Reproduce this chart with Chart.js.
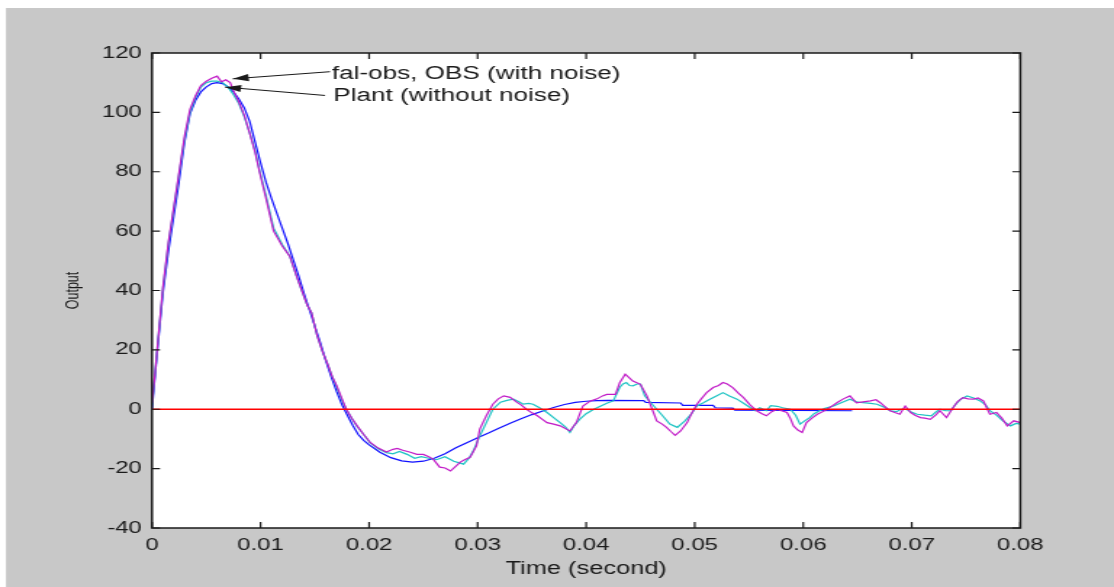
<!DOCTYPE html>
<html>
<head>
<meta charset="utf-8">
<script src="https://cdn.jsdelivr.net/npm/chart.js@4.4.0/dist/chart.umd.min.js"></script>
<style>
html,body{margin:0;padding:0;background:#ffffff;overflow:hidden}
canvas{display:block}
</style>
</head>
<body>
<canvas id="c" width="768" height="587" style="width:1114px;height:587px"></canvas>
<script>
// ---- tick labels ----
const xTickValues = [0, 0.01, 0.02, 0.03, 0.04, 0.05, 0.06, 0.07, 0.08];
const xTickLabels = ['0', '0.01', '0.02', '0.03', '0.04', '0.05', '0.06', '0.07', '0.08'];
const yTickValues = [-40, -20, 0, 20, 40, 60, 80, 100, 120];
const yTickLabels = ['-40', '-20', '0', '20', '40', '60', '80', '100', '120'];

// ---- Plant (without noise) ----
const tPlant = [0,0.00025,0.0005,0.001,0.0015,0.002,0.0025,0.003,0.0035,0.004,
0.0045,0.005,0.0055,0.006,0.0065,0.007,0.0075,0.008,0.0085,0.009,
0.0095,0.01,0.0105,0.011,0.0115,0.012,0.0125,0.013,0.0135,0.014,
0.0145,0.015,0.0155,0.016,0.0165,0.017,0.0175,0.018,0.0185,0.019,
0.0195,0.02,0.021,0.022,0.023,0.024,0.025,0.026,0.027,0.028,
0.029,0.03,0.031,0.032,0.033,0.034,0.035,0.036,0.037,0.038,
0.039,0.04,0.041,0.042,0.0453,0.0455,0.0487,0.0489,0.0517,0.0519,
0.0535,0.0537,0.0645];
const yPlant = [0,10,20,39,53,65,77,90,99.5,104,
106.9,108.6,109.7,110,109.7,108.6,106.9,104.5,101.5,97,
90,83,76.5,71,66,61,56,50.5,45,39,
33.5,28,22.5,16.5,11,6,1.5,-2,-5.5,-8.5,
-10.5,-12,-14.5,-16.3,-17.4,-17.8,-17.5,-16.5,-15,-13,
-11.3,-9.6,-8,-6.3,-4.7,-3.2,-1.8,-0.6,0.6,1.6,
2.3,2.7,2.9,3,2.9,2.3,2.1,1.3,1.3,0.5,
0.4,-0.3,-0.5];

// ---- OBS (with noise) ----
const tObs = [0,0.00025,0.0005,0.001,0.0015,0.002,0.0025,0.003,0.0035,0.004,
0.0045,0.005,0.0055,0.006,0.0065,0.007,0.0075,0.008,0.0085,0.009,
0.0095,0.0099,0.0105,0.0112,0.012,0.0127,0.0133,0.0138,0.0143,0.0147,
0.0152,0.0157,0.0162,0.0166,0.017,0.0175,0.0179,0.0184,0.0189,0.0195,
0.0201,0.0208,0.0216,0.0222,0.0228,0.0235,0.0242,0.0248,0.0255,0.0262,
0.027,0.0278,0.0287,0.0292,0.0296,0.0302,0.0308,0.0314,0.0321,0.0327,
0.0333,0.0338,0.0342,0.0347,0.0351,0.0357,0.0364,0.037,0.0376,0.0381,
0.0385,0.0389,0.0394,0.04,0.0407,0.0413,0.0419,0.0425,0.0431,0.0434,
0.0437,0.044,0.0443,0.0447,0.045,0.0454,0.046,0.0465,0.047,0.0477,
0.0484,0.0491,0.0497,0.0502,0.0508,0.0514,0.052,0.0526,0.0532,0.0539,
0.0545,0.0551,0.0556,0.056,0.0566,0.057,0.0576,0.0581,0.0588,0.0593,
0.0597,0.0601,0.0606,0.061,0.0615,0.062,0.0628,0.0635,0.0643,0.0649,
0.0655,0.0662,0.0668,0.0674,0.068,0.0686,0.069,0.0695,0.07,0.0705,
0.0712,0.0718,0.0722,0.0726,0.0731,0.0736,0.074,0.0745,0.0751,0.0757,
0.0763,0.0768,0.0772,0.0778,0.0784,0.0791,0.0796,0.08];
const yObs = [1.5,11,21,40.5,55.5,67.5,79.5,91,100,105,
108.5,110,110.5,110.5,110,108.5,106,103,98.5,93,
87,80.5,72,61,55.5,51.5,45,40,35,32.5,
25,19.5,15,11,7.5,3,0,-3,-5.8,-8.5,
-11.3,-13.2,-14.6,-15,-14.2,-15.2,-16.5,-16,-16.5,-17,
-16,-17.5,-18.5,-16.5,-14,-9,-4.5,0,2.4,3,
3.4,2.5,1.7,2,1.7,0.5,-1.1,-2.8,-4.5,-6,
-7.8,-5.5,-3.4,-1.5,0,1,2,2.8,7.4,8.5,
9,8,7.9,8.5,8.5,4.5,2,0,-2,-5,
-6.1,-3.9,-1.5,1.1,2.2,3.4,4.5,5.6,4.5,3.4,
2,0.6,-0.5,0.5,-0.5,1.2,1,0.5,0,-2,
-5,-4,-2.8,-1.5,-0.5,0.3,1.1,2.2,3.4,2.5,
2.2,2,1.7,0.8,-0.5,-0.8,0,0,-1,-1.7,
-2,-2.2,-1,0,-0.5,-0.5,1.5,3.4,4.5,3.8,
2.8,1.5,-0.5,-2,-3.9,-5.6,-4.8,-5];

// ---- fal-obs (with noise) ----
const tFal = [0,0.00025,0.0005,0.001,0.0015,0.002,0.0025,0.003,0.0035,0.004,
0.0045,0.005,0.0055,0.006,0.0064,0.0068,0.0072,0.0076,0.008,0.0085,
0.009,0.0095,0.0099,0.0105,0.0112,0.012,0.0127,0.0133,0.0138,0.0143,
0.0147,0.0152,0.0157,0.0162,0.0166,0.017,0.0175,0.0179,0.0184,0.0189,
0.0195,0.0201,0.0208,0.0216,0.0222,0.0226,0.0231,0.0238,0.0244,0.025,
0.0255,0.0259,0.0265,0.027,0.0275,0.0279,0.0284,0.0288,0.0293,0.0299,
0.0302,0.0308,0.0314,0.0319,0.0324,0.033,0.0336,0.034,0.0345,0.035,
0.0355,0.036,0.0364,0.037,0.0376,0.0385,0.0391,0.0397,0.0404,0.041,
0.0415,0.0419,0.0427,0.0431,0.0436,0.044,0.0443,0.045,0.0456,0.0462,
0.0465,0.047,0.0474,0.0478,0.0482,0.0487,0.0493,0.0497,0.0502,0.0506,
0.0511,0.0517,0.0522,0.0526,0.053,0.0535,0.054,0.0545,0.0551,0.0557,
0.0562,0.0566,0.0571,0.0576,0.058,0.0585,0.0588,0.0591,0.0595,0.0599,
0.0603,0.0608,0.0613,0.0618,0.0622,0.0627,0.0631,0.0637,0.0643,0.0649,
0.0655,0.0662,0.0667,0.0671,0.0675,0.068,0.0685,0.0689,0.0694,0.0699,
0.0703,0.0708,0.0712,0.0717,0.0722,0.0726,0.0732,0.0738,0.0742,0.0747,
0.0752,0.0757,0.0761,0.0766,0.0769,0.0772,0.0778,0.0783,0.0788,0.0794,
0.08];
const yFal = [2,11,21,41,56,68,80,92,101,105.5,
109,110.5,111.5,112.2,110.3,111,110,106.5,103.5,99,
93,86.5,80,71,60,55,51.5,45,40,35,
32.5,25,19.5,15,11,8,3.5,0,-3,-5.6,
-8.5,-11.2,-13,-14.4,-13.5,-13.2,-13.8,-14.5,-15.2,-15.2,
-16,-16.8,-19.5,-19.8,-20.8,-19.5,-17.8,-17,-16.2,-12.3,
-6.7,-2.2,1.7,3.5,4.5,4,2.4,1.5,0,-1.2,
-2.2,-3.5,-4.5,-5,-5.6,-7.3,-4.5,1.1,2.8,3.5,
4.5,5,5,9,11.8,10.5,9.5,8.4,4.5,-1.1,
-3.9,-5,-6.1,-7.5,-8.8,-7.3,-4.5,-1.5,1.7,3.5,
5.6,7.3,8,9,8.5,7.3,5.5,3.9,1.5,-0.5,
-1.5,-2.2,-0.8,0,-0.5,-1.1,-3,-5.6,-7,-7.8,
-4.5,-3,-1.7,-0.8,0,1.2,2.2,3.5,4.5,2.2,
2.5,2.8,3.2,2.2,1,-0.5,-1.2,-1.7,1.1,-1.1,
-2,-2.8,-3,-3.4,-2,-0.5,-2.8,0.5,2.5,3.9,
3.5,3.4,3.8,2.8,0.5,-1.7,-1.1,-3,-5.6,-3.9,
-4.5];

// ---- zero reference line ----
const tRef = [0, 0.08];
const yRef = [0, 0];

// ---- annotation texts ----
const annotationTexts = ['fal-obs, OBS (with noise)', 'Plant (without noise)'];
// anchor points of each annotation, in data units [time, output]
const annotationAnchors = [
  {text: [0.01655, 113.0], tail: [0.0164, 113.7], tip: [0.00744, 111.3]},
  {text: [0.01671, 105.4], tail: [0.01594, 105.7], tip: [0.00673, 108.5]}
];

const FONT = "'Liberation Sans', Arial, Helvetica, sans-serif";
const INK = '#1a1a1a';

function pts(ts, vs) {
  const n = Math.min(ts.length, vs.length);
  const out = [];
  for (let i = 0; i < n; i++) out.push({x: ts[i], y: vs[i]});
  return out;
}

const framePlugin = {
  id: 'matlabFrame',
  beforeDraw(chart) {
    const {ctx, width, height, chartArea: a} = chart;
    ctx.save();
    ctx.fillStyle = '#ffffff';
    ctx.fillRect(0, 0, width, height);
    ctx.fillStyle = '#c8c8c8';
    ctx.fillRect(4.1, 8, width, height);
    ctx.fillStyle = '#ffffff';
    ctx.fillRect(a.left, a.top, a.right - a.left, a.bottom - a.top);
    ctx.restore();
  },
  afterDraw(chart) {
    const {ctx, chartArea: a, scales} = chart;
    const xs = scales.x, ys = scales.y;
    ctx.save();
    ctx.strokeStyle = INK;
    // ticks inside
    ctx.lineWidth = 1.2;
    ctx.beginPath();
    yTickValues.forEach(v => {
      const py = ys.getPixelForValue(v);
      ctx.moveTo(a.left, py); ctx.lineTo(a.left + 5.5, py);
      ctx.moveTo(a.right, py); ctx.lineTo(a.right - 5.5, py);
    });
    xTickValues.forEach(v => {
      const px = xs.getPixelForValue(v);
      ctx.moveTo(px, a.bottom); ctx.lineTo(px, a.bottom - 6);
      ctx.moveTo(px, a.top); ctx.lineTo(px, a.top + 6);
    });
    ctx.stroke();
    // frame
    ctx.lineWidth = 1.5;
    ctx.strokeRect(a.left, a.top, a.right - a.left, a.bottom - a.top);

    // annotations
    ctx.fillStyle = INK;
    ctx.font = '18px ' + FONT;
    ctx.textAlign = 'left';
    ctx.textBaseline = 'middle';
    annotationAnchors.forEach((an, i) => {
      const tx = xs.getPixelForValue(an.text[0]), ty = ys.getPixelForValue(an.text[1]);
      ctx.fillText(annotationTexts[i], tx, ty);
      const x0 = xs.getPixelForValue(an.tail[0]), y0 = ys.getPixelForValue(an.tail[1]);
      const x1 = xs.getPixelForValue(an.tip[0]), y1 = ys.getPixelForValue(an.tip[1]);
      ctx.lineWidth = 1;
      ctx.beginPath(); ctx.moveTo(x0, y0); ctx.lineTo(x1, y1); ctx.stroke();
      const ang = Math.atan2(y1 - y0, x1 - x0);
      const L = 11, Wd = 3.6;
      const bx = x1 - L * Math.cos(ang), by = y1 - L * Math.sin(ang);
      ctx.beginPath();
      ctx.moveTo(x1, y1);
      ctx.lineTo(bx + Wd * Math.sin(ang), by - Wd * Math.cos(ang));
      ctx.lineTo(bx - Wd * Math.sin(ang), by + Wd * Math.cos(ang));
      ctx.closePath();
      ctx.fill();
    });
    ctx.restore();
  }
};

const lineDs = (label, data, color, order, width) => ({
  label, data, borderColor: color, backgroundColor: color,
  borderWidth: width, pointRadius: 0, tension: 0, fill: false, order
});

new Chart(document.getElementById('c'), {
  type: 'line',
  data: {
    datasets: [
      lineDs('Zero', pts(tRef, yRef), '#ff0000', 0, 1.3),
      lineDs('fal-obs', pts(tFal, yFal), '#c21cc8', 1, 1.2),
      lineDs('OBS', pts(tObs, yObs), '#1ec4c4', 2, 1.2),
      lineDs('Plant', pts(tPlant, yPlant), '#1010ff', 3, 1.2)
    ]
  },
  options: {
    responsive: false,
    devicePixelRatio: 1,
    animation: false,
    events: [],
    layout: {padding: {left: 0, right: 64.6, top: 53, bottom: 0}},
    plugins: {legend: {display: false}, tooltip: {enabled: false}},
    scales: {
      x: {
        type: 'linear', min: 0, max: 0.08,
        grid: {display: false, drawTicks: false},
        border: {display: false},
        afterBuildTicks: s => { s.ticks = xTickValues.map(v => ({value: v})); },
        afterFit: s => { s.height = 59; },
        ticks: {
          padding: 7.5, maxRotation: 0, autoSkip: false, color: INK,
          font: {family: FONT, size: 16.5},
          callback: (v, i) => xTickLabels[i]
        },
        title: {display: true, text: 'Time (second)', color: INK,
          font: {family: FONT, size: 17.5}, padding: {top: 0, bottom: 7}}
      },
      y: {
        type: 'linear', min: -40, max: 120,
        grid: {display: false, drawTicks: false},
        border: {display: false},
        afterBuildTicks: s => { s.ticks = yTickValues.map(v => ({value: v})); },
        afterFit: s => { s.width = 104.8; },
        ticks: {
          padding: 7, autoSkip: false, color: INK,
          font: {family: FONT, size: 16.5},
          callback: (v, i) => yTickLabels[i]
        },
        title: {display: true, text: 'Output', color: INK,
          font: {family: FONT, size: 12.5}, padding: {top: 42.8, bottom: 0}}
      }
    }
  },
  plugins: [framePlugin]
});
</script>
</body>
</html>
